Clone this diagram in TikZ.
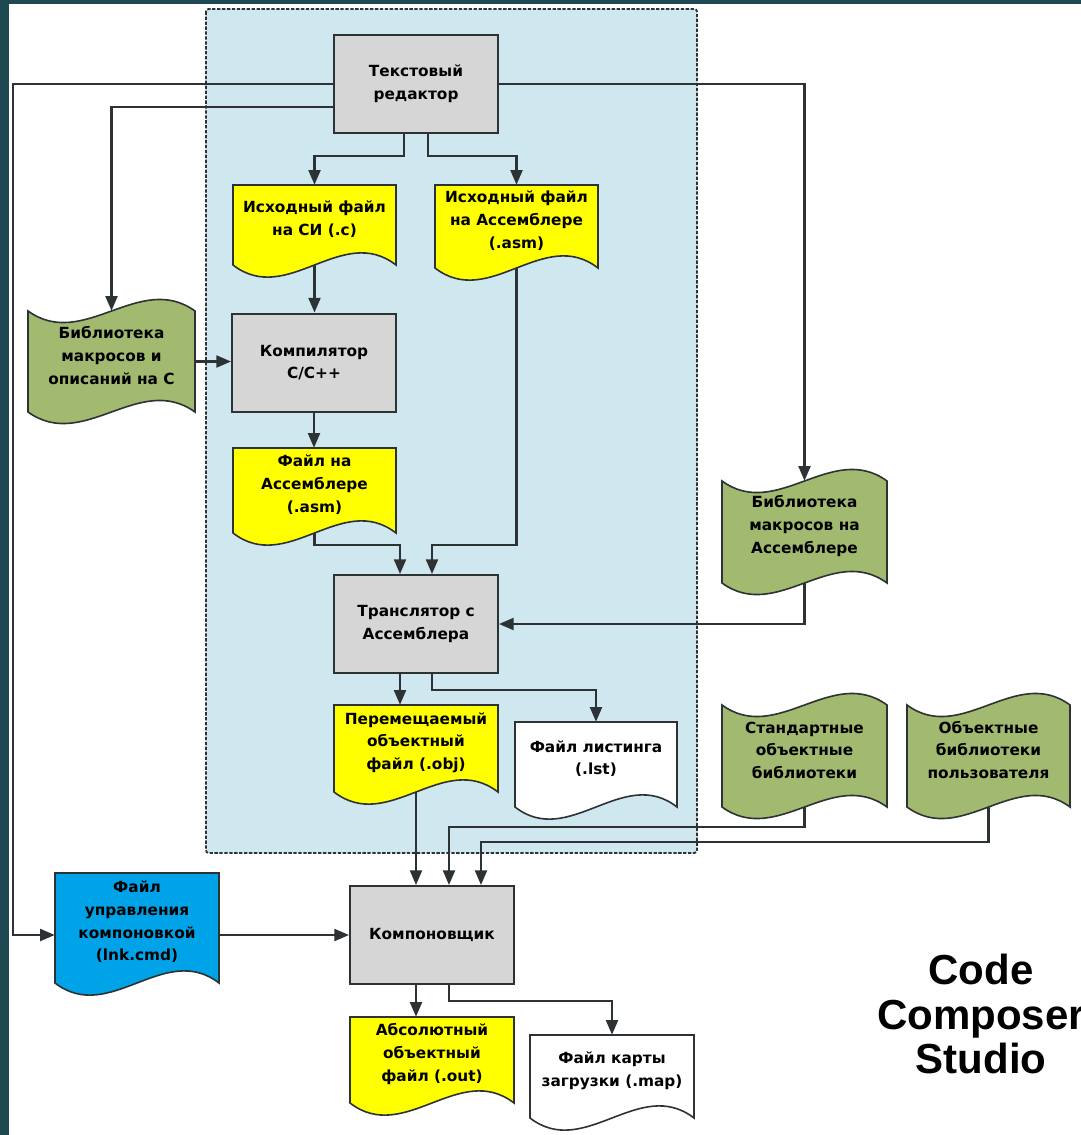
\documentclass[tikz,border=0pt]{standalone}
\usepackage{fontspec}
\setmainfont{DejaVu Sans}
\newfontfamily\ccsfont{Liberation Sans}
\usetikzlibrary{positioning,arrows.meta,calc,fit}

\definecolor{frameteal}{RGB}{30,72,82}
\definecolor{zoneblue}{RGB}{207,231,238}
\definecolor{boxgray}{RGB}{214,214,214}
\definecolor{docyellow}{RGB}{255,255,0}
\definecolor{libgreen}{RGB}{162,186,112}
\definecolor{cmdblue}{RGB}{0,162,232}
\definecolor{edgegray}{RGB}{45,50,52}

\pgfdeclarelayer{bg}
\pgfdeclarelayer{lines}
\pgfsetlayers{bg,lines,main}

\tikzset{
  boxfont/.style={font=\bfseries\fontsize{11.5}{17}\selectfont},
  procbox/.style={draw=edgegray, line width=1.5pt, fill=boxgray, minimum width=123pt,
    minimum height=73.5pt, inner sep=0pt, align=center, boxfont},
  shapetext/.style={inner sep=0pt, align=center, boxfont},
  shapeline/.style={draw=edgegray, line width=1.2pt},
  flow/.style={draw=edgegray, line width=1.6pt, -{Triangle[length=11pt,width=9pt]}},
}

% document: name, fill, left, top, width, height to corner, text
\newcommand{\docshape}[7]{%
  \filldraw[shapeline, fill=#2] (#3,#4) -- (#3+#5,#4) -- (#3+#5,#4+#6)
    .. controls (#3+2*#5/3,#4+#6-42) and (#3+#5/3,#4+#6+42) .. (#3,#4+#6) -- cycle;
  \node[shapetext, fit={(#3,#4) (#3+#5,#4+#6)}] (#1) {#7};}
% tape: name, left, top, width, height, text
\newcommand{\tapeshape}[6]{%
  \filldraw[shapeline, fill=libgreen] (#2,#3)
    .. controls (#2+#4/3,#3+40) and (#2+2*#4/3,#3-40) .. (#2+#4,#3) -- (#2+#4,#3+#5)
    .. controls (#2+2*#4/3,#3+#5-40) and (#2+#4/3,#3+#5+40) .. (#2,#3+#5) -- cycle;
  \node[shapetext, fit={(#2,#3) (#2+#4,#3+#5)}] (#1) {#6};}

\begin{document}
\begin{tikzpicture}[x=0.75pt, y=-0.75pt]
\useasboundingbox (0,0) rectangle (1081,1135);
% frame and tool zone
\begin{pgfonlayer}{bg}
\fill[frameteal] (0,0) rectangle (1081,1135);
\fill[white] (9,4) rectangle (1081,1135);
\draw[fill=zoneblue, draw=edgegray, line width=1.4pt, dash pattern=on 2.5pt off 1.2pt,
  rounded corners=2pt] (206,9) rectangle (697,853);
\end{pgfonlayer}

% processing steps
\node[procbox] (editor) at (416,84) {Текстовый\\редактор};
\node[procbox] (comp) at (314,362.5) {Компилятор\\C/C++};
\node[procbox] (trans) at (416,624) {Транслятор с\\Ассемблера};
\node[procbox] (link) at (432,935) {Компоновщик};

% files
\docshape{srcc}{docyellow}{233}{185}{163}{80}{Исходный файл\\на СИ (.c)}
\docshape{srcasm}{docyellow}{435}{185}{163}{83}{Исходный файл\\на Ассемблере\\(.asm)}
\docshape{asmf}{docyellow}{233}{448}{163}{85}{Файл на\\Ассемблере\\(.asm)}
\docshape{obj}{docyellow}{334}{705}{164}{87}{Перемещаемый\\объектный\\файл (.obj)}
\docshape{lst}{white}{515}{722}{162}{85}{Файл листинга\\(.lst)}
\docshape{lnk}{cmdblue}{55}{873}{164}{110}{Файл\\управления\\компоновкой\\(lnk.cmd)}
\docshape{out}{docyellow}{350}{1017}{164}{86}{Абсолютный\\объектный\\файл (.out)}
\docshape{map}{white}{530}{1035}{164}{83}{Файл карты\\загрузки (.map)}

% libraries
\tapeshape{libc}{28}{311}{167}{101}{Библиотека\\макросов и\\описаний на C}
\tapeshape{libasm}{722}{481}{165}{102}{Библиотека\\макросов на\\Ассемблере}
\tapeshape{std}{722}{705}{165}{102}{Стандартные\\объектные\\библиотеки}
\tapeshape{usr}{907}{705}{163}{102}{Объектные\\библиотеки\\пользователя}

\node[font=\ccsfont\bfseries\fontsize{31.5}{33.5}\selectfont, align=center] (ccs) at (981,1014)
  {Code\\Composer\\Studio};

% connectors
\coordinate (objin) at ($(trans.south)+(-16,0)$);
\coordinate (outin) at ($(link.south)+(-16,0)$);
\begin{pgfonlayer}{lines}
\draw[flow] (editor.west) -- ++(-320,0) |- (link.west -| lnk.west);
\draw[flow] ($(editor.west)+(0,23)$) -| (libc.north);
\draw[flow] (editor.east) -| (libasm.north);
\draw[flow] ($(editor.south)+(-12,0)$) -- ++(0,22) -| (srcc.north);
\draw[flow] ($(editor.south)+(12,0)$) -- ++(0,22) -| (srcasm.north);
\draw[flow] (srcc.south) -- (srcc.south |- comp.north);
\draw[flow] (libc.east) -- (libc.east -| comp.west);
\draw[flow] (comp.south) -- (comp.south |- asmf.north);
\draw[flow] (asmf.south) -- ++(0,12) -| ($(trans.north)+(-16,0)$);
\draw[flow] (srcasm.south) -- ++(0,277) -| ($(trans.north)+(16,0)$);
\draw[flow] (libasm.south) |- (trans.east);
\draw[flow] (objin) -- (objin |- obj.north);
\draw[flow] ($(trans.south)+(16,0)$) -- ++(0,16) -| (lst.north);
\draw[flow] (obj.south) -- (obj.south |- link.north);
\draw[flow] (std.south) -- ++(0,20) -| ($(link.north)+(17,0)$);
\draw[flow] (usr.south) -- ++(0,35) -| ($(link.north)+(49,0)$);
\draw[flow] (link.west -| lnk.east) -- (link.west);
\draw[flow] (outin) -- (outin |- out.north);
\draw[flow] ($(link.south)+(17,0)$) -- ++(0,16) -| (map.north);
\end{pgfonlayer}
\end{tikzpicture}
\end{document}
